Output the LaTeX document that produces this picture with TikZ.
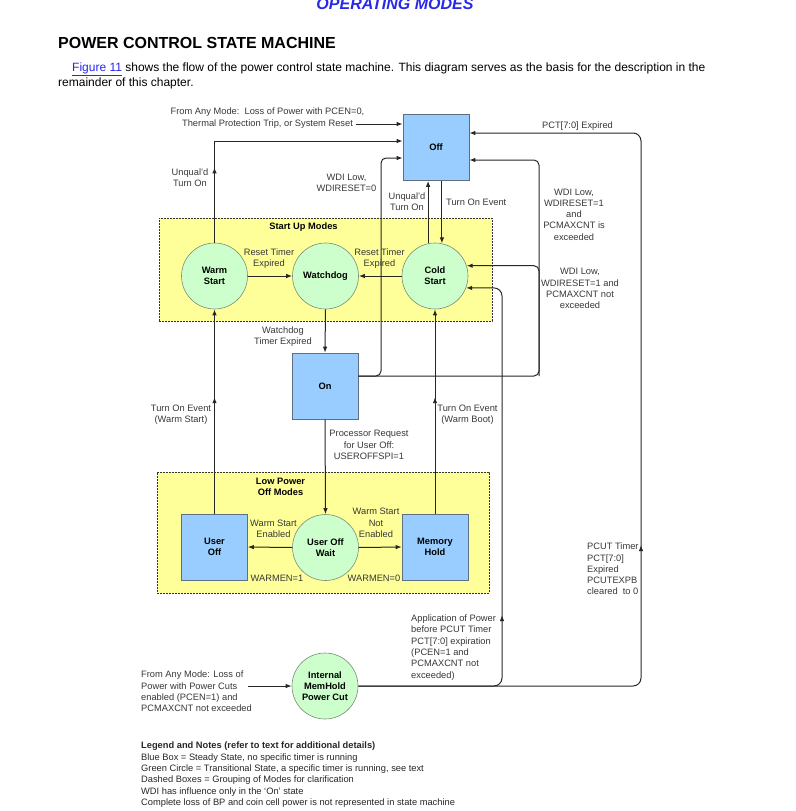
\documentclass[tikz,border=0pt]{standalone}
\usepackage{fontspec}
\setmainfont{Liberation Sans}
\usepackage{xcolor}
\usetikzlibrary{
  arrows.meta,
  positioning,
  calc,
  decorations.markings
}
\definecolor{steadyblue}{RGB}{153,204,255}
\definecolor{steadyedge}{RGB}{95,110,130}
\definecolor{transgreen}{RGB}{204,255,204}
\definecolor{transedge}{RGB}{120,140,120}
\definecolor{groupyellow}{RGB}{255,255,153}
\definecolor{labelgray}{RGB}{55,55,55}
\definecolor{linkblue}{RGB}{40,40,230}
\newcommand{\diagfont}{\fontsize{9.3}{11.3}\selectfont}

\begin{document}
\begin{tikzpicture}[x=1pt,y=-1pt,
  steady/.style={draw=steadyedge,fill=steadyblue,line width=0.6pt,
    minimum width=66pt,minimum height=66pt,inner sep=0pt,align=center,
    font=\diagfont\bfseries},
  transit/.style={circle,draw=transedge,fill=transgreen,line width=0.6pt,
    minimum size=66pt,inner sep=0pt,align=center,font=\diagfont\bfseries},
  modegroup/.style={draw=black!80,fill=groupyellow,line width=0.8pt,
    dash pattern=on 2pt off 1pt,inner sep=0pt},
  flow/.style={draw=black!85,line width=1pt,-{Latex[length=6pt,width=4.5pt]}},
  lbl/.style={text=labelgray,font=\diagfont,align=center,inner sep=0pt},
  midarrow/.style={postaction={decorate},decoration={markings,
    mark=at position #1 with {\arrow{Latex[length=6pt,width=4.5pt]}}}}
]
  \useasboundingbox (0,0) rectangle (795,811);

  % page heading and intro
  \node[anchor=base,font=\fontsize{16}{19}\selectfont\bfseries\itshape,text=linkblue]
    (chapter) at (395,9.5) {OPERATING MODES};
  \node[anchor=base west,inner sep=0pt,font=\fontsize{16}{19}\selectfont\bfseries]
    (title) at (58,48) {POWER CONTROL STATE MACHINE};
  \node[anchor=base west,inner sep=0pt,font=\fontsize{12}{15}\selectfont] (intro1) at (72,71)
    {\textcolor{linkblue}{\underline{Figure 11}} shows the flow of the power control state machine. This diagram serves as the basis for the description in the};
  \node[anchor=base west,inner sep=0pt,font=\fontsize{12}{15}\selectfont] (intro2) at (58,86)
    {remainder of this chapter.};

  % grouping boxes
  \node[modegroup,minimum width=333pt,minimum height=103pt] (startup) at (325.5,269.5) {};
  \node[modegroup,minimum width=332pt,minimum height=121pt] (lowpower) at (323,532.5) {};
  \node[lbl,font=\diagfont\bfseries,text=black] (startuplbl) at (303.5,227) {Start Up Modes};
  \node[lbl,font=\diagfont\bfseries,text=black] (lowlbl) at (280.5,487) {Low Power\\Off Modes};

  % states
  \node[steady] (off) at (436,147.5) {Off};
  \node[transit] (warm) at (214.5,276) {Warm\\Start};
  \node[transit] (watchdog) at (325.5,276) {Watchdog};
  \node[transit] (cold) at (435,276) {Cold\\Start};
  \node[steady] (on) at (325,386) {On};
  \node[steady] (useroff) at (214.5,547) {User\\Off};
  \node[transit] (offwait) at (325.5,547.5) {User Off\\Wait};
  \node[steady] (memhold) at (435,547) {Memory\\Hold};
  \node[transit] (cut) at (325,686) {Internal\\MemHold\\Power Cut};

  % into Off
  \node[lbl] (anyloss) at (267.5,118)
    {From Any Mode:\ \ Loss of Power with PCEN=0,\\Thermal Protection Trip, or System Reset};
  \coordinate (anyin) at (356,124);
  \draw[flow] (anyin) -- ([yshift=23.5pt]off.west);
  \draw[flow,midarrow=0.26] (warm.north) |- ([yshift=6.5pt]off.west);
  \draw[flow] (cold.102) -- (cold.102 |- off.south);
  \draw[flow] (off.south -| cold.78) -- (cold.78);

  % start up modes
  \draw[flow] (warm.east) -- (watchdog.west);
  \draw[flow] (cold.west) -- (watchdog.east);
  \draw[flow] (watchdog.south) -- (on.north);

  % watchdog input while On
  \coordinate (wdiL) at (381,376);
  \coordinate (wdiR) at (539,376);
  \draw[flow,rounded corners=5pt] ([yshift=10pt]on.east) -- (wdiL) |- ([yshift=-10.5pt]off.west);
  \draw[flow,rounded corners=5pt] ([yshift=10pt]on.east) -- (wdiR) |- ([yshift=-12.5pt]off.east);
  \draw[flow,rounded corners=5pt] (wdiR) |- (cold.18);

  % low power off modes
  \draw[flow] (on.south) -- (offwait.north);
  \draw[flow] (offwait.west) -- (useroff.east);
  \draw[flow] (offwait.east) -- (memhold.west);
  \draw[flow,midarrow=0.57] (useroff.north) -- (warm.south);
  \draw[flow,midarrow=0.57] (memhold.north) -- (cold.south);

  % power cut
  \node[lbl,align=left,anchor=west] (cutfrom) at (141,691.5)
    {From Any Mode: Loss of\\Power with Power Cuts\\enabled (PCEN=1) and\\PCMAXCNT not exceeded};
  \coordinate (cutin) at (248,686);
  \draw[flow] (cutin) -- (cut.west);
  \coordinate (pcR) at (641,686);
  \coordinate (apR) at (502,686);
  \draw[flow,rounded corners=8pt,midarrow=0.42] (cut.east) -- (pcR) |- ([yshift=14.5pt]off.east);
  \draw[flow,rounded corners=8pt,midarrow=0.37] (cut.east) -- (apR) |- (cold.-21);

  % connector labels
  \node[lbl] (unqw) at (190,178) {Unqual'd\\Turn On};
  \node[lbl] (wdi0) at (346.5,182.5) {WDI Low,\\WDIRESET=0};
  \node[lbl] (unqc) at (407,202) {Unqual'd\\Turn On};
  \node[lbl,anchor=west] (turnon) at (446,202) {Turn On Event};
  \node[lbl] (pctexp) at (577.5,126) {PCT[7:0] Expired};
  \node[lbl] (wdiexc) at (574,214.5) {WDI Low,\\WDIRESET=1\\and\\PCMAXCNT is\\exceeded};
  \node[lbl] (wdinot) at (580,288.5) {WDI Low,\\WDIRESET=1 and\\PCMAXCNT not\\exceeded};
  \node[lbl] (resetw) at (269,258.5) {Reset Timer\\Expired};
  \node[lbl] (resetc) at (379.5,258.5) {Reset Timer\\Expired};
  \node[lbl] (wdtexp) at (283,336.5) {Watchdog\\Timer Expired};
  \node[lbl] (warmev) at (181,414.5) {Turn On Event\\(Warm Start)};
  \node[lbl] (bootev) at (467.5,414.5) {Turn On Event\\(Warm Boot)};
  \node[lbl] (procreq) at (369,445) {Processor Request\\for User Off:\\USEROFFSPI=1};
  \node[lbl] (wsen) at (273.5,528.5) {Warm Start\\Enabled};
  \node[lbl] (wsnot) at (376,523) {Warm Start\\Not\\Enabled};
  \node[lbl] (warmen1) at (277,578) {WARMEN=1};
  \node[lbl] (warmen0) at (374,578) {WARMEN=0};
  \node[lbl,align=left,anchor=west] (apppow) at (411,647.5)
    {Application of Power\\before PCUT Timer\\PCT[7:0] expiration\\(PCEN=1 and\\PCMAXCNT not\\exceeded)};
  \node[lbl,align=left,anchor=west] (pcutlbl) at (587,569)
    {PCUT Timer\\PCT[7:0]\\Expired\\PCUTEXPB\\cleared\ \ to 0};

  % legend
  \node[lbl,align=left,anchor=north west,text=black!85] (legend) at (141,742)
    {\textbf{Legend and Notes (refer to text for additional details)}\\
     Blue Box = Steady State, no specific timer is running\\
     Green Circle = Transitional State, a specific timer is running, see text\\
     Dashed Boxes = Grouping of Modes for clarification\\
     WDI has influence only in the `On' state\\
     Complete loss of BP and coin cell power is not represented in state machine};
\end{tikzpicture}
\end{document}
